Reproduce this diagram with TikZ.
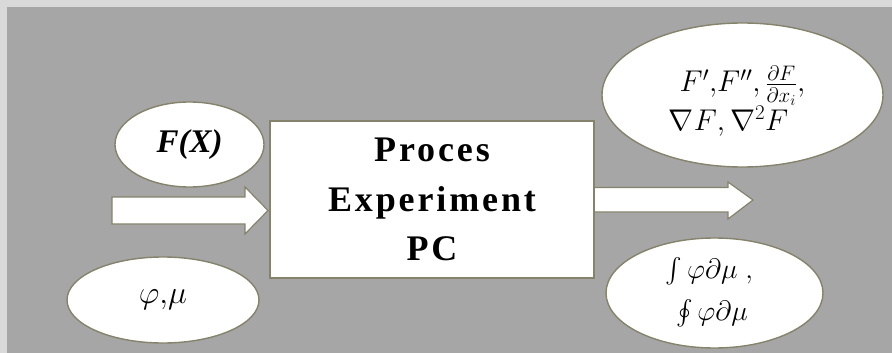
\RequirePackage{fix-cm}
\documentclass[tikz,border=0pt]{standalone}
\usepackage{exscale}
\usepackage{fontspec}
\setmainfont{Liberation Serif}
\usetikzlibrary{shapes.geometric}
\definecolor{frame}{HTML}{D9D9D9}
\definecolor{panel}{HTML}{A6A6A6}
\definecolor{edge}{HTML}{85836B}
\begin{document}
\begin{tikzpicture}[x=1pt,y=-1pt,
  blob/.style={ellipse, draw=edge, line width=1.4pt, fill=white, inner sep=0pt},
  flow/.style={draw=edge, line width=1.2pt, fill=white, line join=miter},
  core/.style={rectangle, draw=edge, line width=1.2pt, fill=white, align=center,
    font=\fontsize{36}{49.5}\selectfont\bfseries\addfontfeature{LetterSpace=8}},
  formula/.style={inner sep=0pt, anchor=base}]
\useasboundingbox (0,0) rectangle (892,353);
\fill[frame] (0,0) rectangle (892,353);
\fill[panel] (7,7) rectangle (892,353);

% input block arrow
\draw[flow] (112,197) -- (245,197) -- (245,187) -- (268,210.5)
  -- (245,234) -- (245,224) -- (112,224) -- cycle;
% output block arrow (its tail is hidden under the central block)
\draw[flow] (585,187.5) -- (728,187.5) -- (728,182) -- (753,200)
  -- (728,219) -- (728,212) -- (585,212) -- cycle;

% central block
\node[core, minimum width=324pt, minimum height=157pt] (proc) at (432,199.5)
  {Proces\\Experiment\\PC};

% inputs
\node[blob, minimum width=149pt, minimum height=85pt,
  font=\fontsize{33}{33}\selectfont\bfseries\itshape] (fx) at (189.5,144.5) {F(X)};
\node[blob, minimum width=192pt, minimum height=86pt] (meas) at (163,300) {};
\node[font=\fontsize{32}{32}\selectfont] (meastext) at (meas.center) {$\varphi{,}\mu$};

% outputs: derivatives
\node[blob, minimum width=281pt, minimum height=144pt] (deriv) at (742.5,95) {};
\node[formula, font=\fontsize{30}{30}\selectfont] (derivA) at (742.5,92)
  {$F'{,}F''{,}\,\frac{\partial F}{\partial x_i}{,}$};
\node[formula, font=\fontsize{30}{30}\selectfont] (derivB) at (728.5,130)
  {$\nabla F{,}\,\nabla^2 F$};

% outputs: integrals
\node[blob, minimum width=217pt, minimum height=110pt] (integ) at (714.5,293) {};
\node[formula, font=\fontsize{28}{28}\selectfont] (integA) at (709.5,278)
  {$\int\varphi\partial\mu\;{,}$};
\node[formula, font=\fontsize{28}{28}\selectfont] (integB) at (712,320)
  {$\oint\varphi\partial\mu$};
\end{tikzpicture}
\end{document}
